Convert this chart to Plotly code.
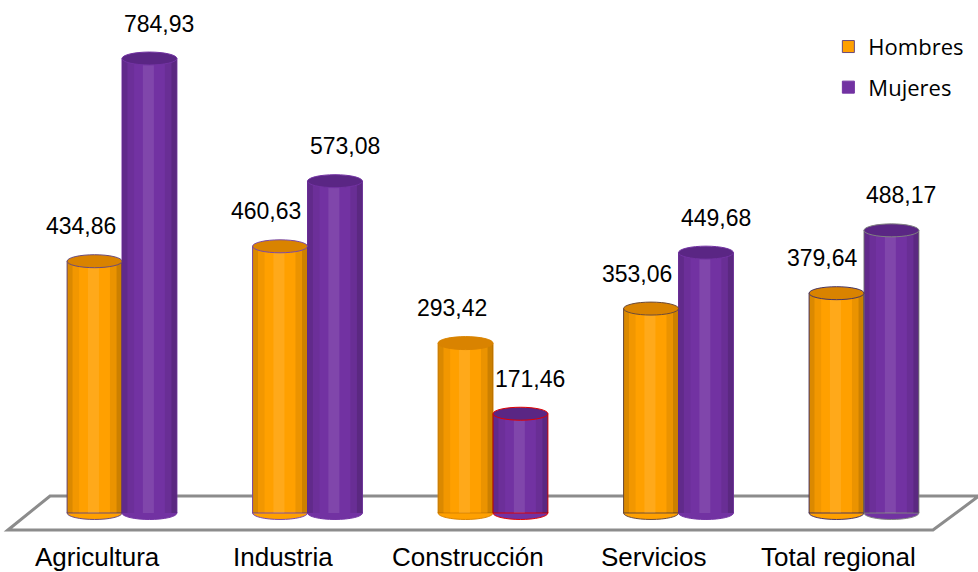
import plotly.graph_objects as go

categories = ["Agricultura", "Industria", "Construcción", "Servicios", "Total regional"]
hombres = [434.86, 460.63, 293.42, 353.06, 379.64]
mujeres = [784.93, 573.08, 171.46, 449.68, 488.17]
series_names = ["Hombres", "Mujeres"]


def fmt(v):
    return f"{v:.2f}".replace(".", ",")


xpos = list(range(len(categories)))
W = 0.296
ORANGE = "#FFA000"
ORANGE_TOP = "#D98300"
PURPLE = "#7232A2"
PURPLE_TOP = "#5A2684"
H_LINE = ["#6A4A7A", "#7A4AA8", "#D98300", "#6B4A3A", "#4A3560"]
M_LINE = ["#7232A2", "#7232A2", "#E00000", "#7232A2", "#808080"]
EH = 11.2  # half-height of ellipse caps (y units)

fig = go.Figure()
fig.add_trace(go.Bar(x=xpos, y=hombres, width=W, offset=-W, name=series_names[0],
                     marker=dict(color=ORANGE, line=dict(color=H_LINE, width=1)),
                     legendgroup="h"))
fig.add_trace(go.Bar(x=xpos, y=mujeres, width=W, offset=0, name=series_names[1],
                     marker=dict(color=PURPLE, line=dict(color=M_LINE, width=1)),
                     legendgroup="m"))

shapes = []
# floor outline
shapes.append(dict(type="path", xref="x", yref="y", layer="below",
                   path="M -0.615 -29.4 L -0.388 29.4 L 4.62 29.4 L 4.372 -29.4 Z",
                   line=dict(color="#8C8C8C", width=3), fillcolor="rgba(255,255,255,0)"))

annotations = []
for vals, off, col, top, lines, xs in [(hombres, -W, ORANGE, ORANGE_TOP, H_LINE, -14),
                                       (mujeres, 0.0, PURPLE, PURPLE_TOP, M_LINE, 10)]:
    for i, v in enumerate(vals):
        x0 = xpos[i] + off
        x1 = x0 + W
        # bottom cap
        shapes.append(dict(type="circle", xref="x", yref="y", layer="below",
                           x0=x0, x1=x1, y0=-EH, y1=EH, fillcolor=col,
                           line=dict(color=lines[i], width=1)))
        # shading strips
        for a, b, c in [(0.0, 0.10, "rgba(0,0,0,0.14)"), (0.10, 0.22, "rgba(0,0,0,0.05)"),
                        (0.38, 0.58, "rgba(255,255,255,0.10)"),
                        (0.78, 0.90, "rgba(0,0,0,0.08)"), (0.90, 1.0, "rgba(0,0,0,0.20)")]:
            shapes.append(dict(type="rect", xref="x", yref="y", layer="above",
                               x0=x0 + a * W, x1=x0 + b * W, y0=0, y1=v,
                               fillcolor=c, line=dict(width=0)))
        # top cap
        shapes.append(dict(type="circle", xref="x", yref="y", layer="above",
                           x0=x0, x1=x1, y0=v - EH, y1=v + EH, fillcolor=top,
                           line=dict(color=lines[i], width=1)))
        annotations.append(dict(x=x0 + W / 2, y=v, xref="x", yref="y", text=fmt(v),
                                showarrow=False, yanchor="middle", yshift=35, xshift=xs,
                                font=dict(family="Liberation Sans, Arial", size=23, color="#000")))

for i, c in enumerate(categories):
    annotations.append(dict(x=xpos[i], y=-76, xref="x", yref="y", text=c, showarrow=False,
                            yanchor="middle", xshift=-25,
                            font=dict(family="Liberation Sans, Arial", size=26, color="#000")))

fig.update_layout(
    width=978, height=572,
    margin=dict(l=0, r=0, t=0, b=0),
    paper_bgcolor="white", plot_bgcolor="white",
    xaxis=dict(range=[-0.6577, 4.6146], visible=False, fixedrange=True),
    yaxis=dict(range=[-101.9, 886.0], visible=False, fixedrange=True),
    showlegend=True,
    legend=dict(x=0.847, y=0.955, xanchor="left", yanchor="top",
                font=dict(family="Open Sans", size=22, color="#000"),
                tracegroupgap=9, itemwidth=30, bgcolor="rgba(0,0,0,0)"),
    shapes=shapes,
    annotations=annotations,
)

fig.write_html("out.html", config={"displayModeBar": False},
               post_script="document.body.style.margin='0';document.body.style.overflow='hidden';")
